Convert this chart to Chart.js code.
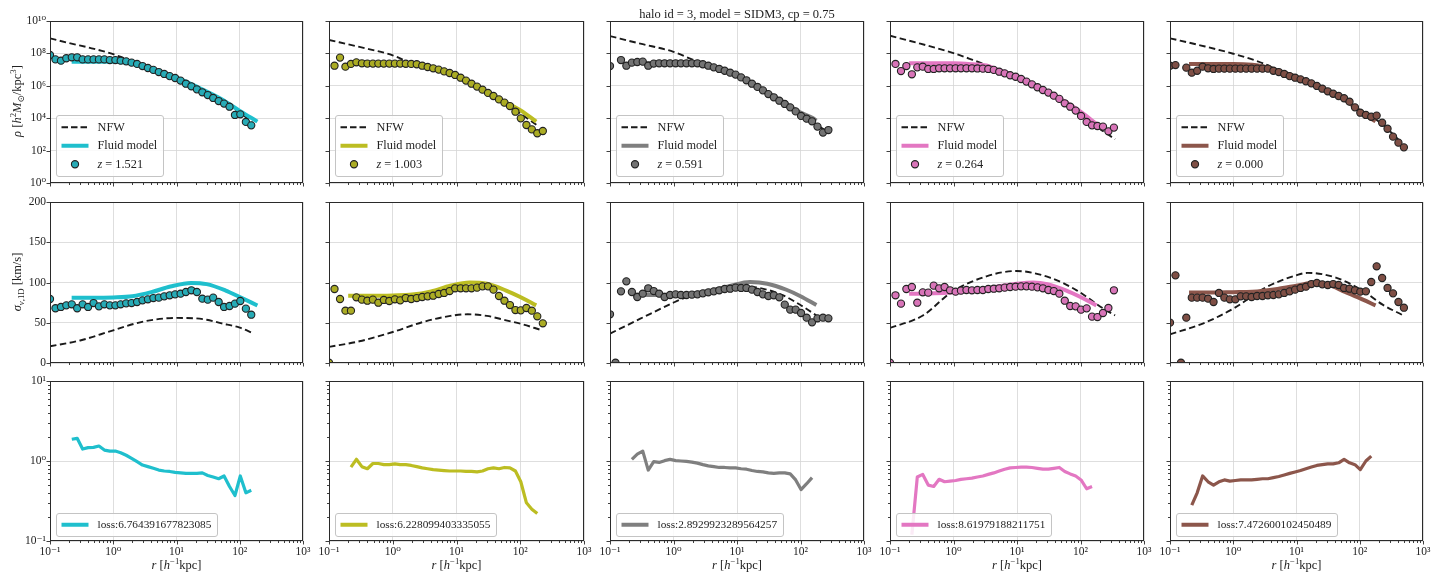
<!DOCTYPE html>
<html>
<head>
<meta charset="utf-8">
<script src="https://cdn.jsdelivr.net/npm/chart.js@4.4.0/dist/chart.umd.min.js"></script>
<style>
  body { margin: 0; background: #fff; }
  #fig { position: relative; width: 1431px; height: 575px; overflow: hidden; background: #fff;
         font-family: "Liberation Serif", "DejaVu Serif", serif; color: #222; }
  #fig canvas { position: absolute; }
  .txt { position: absolute; white-space: nowrap; line-height: 1; }
  .txt sup, .txt sub { font-size: 70%; line-height: 0; }
</style>
</head>
<body>
<div id="fig"></div>
<script>
// radial bins of the simulation profiles [h^-1 kpc]
const radii = [0.100, 0.122, 0.149, 0.181, 0.221, 0.269, 0.328, 0.400, 0.488, 0.594,
  0.724, 0.883, 1.08, 1.31, 1.60, 1.95, 2.38, 2.90, 3.53, 4.31,
  5.25, 6.40, 7.80, 9.51, 11.6, 14.1, 17.2, 21.0, 25.6, 31.2,
  38.0, 46.4, 56.5, 68.9, 84.0, 102, 125, 152, 185, 226,
  275, 336, 409, 499];

const redshifts = ['1.521', '1.003', '0.591', '0.264', '0.000'];
const lossLabels = ['loss:6.764391677823085', 'loss:6.228099403335055', 'loss:2.8929923289564257',
  'loss:8.61979188211751', 'loss:7.472600102450489'];
const colors = ['#1fbfcd', '#bcbd22', '#7f7f7f', '#e377c2', '#8c564b'];
const markerColors = ['#27abb6', '#abac24', '#737373', '#d874b8', '#7f4f45'];

// density of the simulated halo, log10(rho), one value per radial bin
const rhoSim1 = [7.90, 7.63, 7.55, 7.70, 7.76, 7.76, 7.63, 7.63, 7.63, 7.63, 7.63, 7.59, 7.59, 7.55, 7.51,
  7.43, 7.35, 7.22, 7.10, 6.98, 6.85, 6.73, 6.60, 6.48, 6.32, 6.13, 5.97, 5.78, 5.60, 5.43, 5.25, 5.06,
  4.90, 4.71, 4.20, 4.24, 3.77, 3.56];
const rhoSim2 = [null, 7.24, 7.74, 7.18, 7.35, 7.45, 7.39, 7.37, 7.37, 7.37, 7.37, 7.37, 7.37, 7.37, 7.36,
  7.35, 7.33, 7.24, 7.16, 7.08, 7.00, 6.89, 6.79, 6.67, 6.50, 6.32, 6.13, 5.95, 5.76, 5.56, 5.37, 5.16,
  4.96, 4.75, 4.40, 3.99, 3.58, 3.31, 3.07, 3.21];
const rhoSim3 = [7.22, null, 7.59, 7.24, 7.43, 7.47, 7.49, 7.24, 7.37, 7.39, 7.39, 7.39, 7.39, 7.39, 7.39,
  7.39, 7.39, 7.33, 7.24, 7.14, 7.04, 6.93, 6.81, 6.69, 6.52, 6.34, 6.13, 5.93, 5.72, 5.49, 5.29, 5.08,
  4.88, 4.67, 4.42, 4.14, 3.97, 3.81, 3.48, 3.11, 3.27];
const rhoSim4 = [null, 7.35, 6.91, 7.22, 6.71, 7.14, 7.18, 7.04, 7.04, 7.08, 7.08, 7.08, 7.08, 7.08, 7.08,
  7.08, 7.07, 7.06, 7.04, 6.98, 6.87, 6.77, 6.65, 6.56, 6.42, 6.26, 6.09, 5.91, 5.74, 5.58, 5.39, 5.19,
  4.92, 4.71, 4.47, 4.14, 3.77, 3.56, 3.52, 3.48, 3.19, 3.42];
const rhoSim5 = [7.24, 7.28, null, 7.12, 6.81, 6.93, 7.18, 7.08, 7.04, 7.06, 7.06, 7.06, 7.06, 7.06, 7.06,
  7.06, 7.06, 7.06, 7.06, 6.93, 6.85, 6.73, 6.60, 6.50, 6.40, 6.28, 6.15, 5.99, 5.82, 5.66, 5.51, 5.37,
  5.23, 5.02, 4.67, 4.34, 4.20, 4.09, 4.16, 3.72, 3.35, 2.86, 2.49, 2.20];

// model density curves, [r, log10(rho)]
const rhoNfw1 = [[0.1, 8.93], [0.2, 8.64], [0.5, 8.28], [1, 7.95], [1.5, 7.70], [2, 7.52], [3, 7.25], [5, 6.95],
  [10, 6.48], [20, 5.92], [50, 5.08], [100, 4.35], [160, 3.70]];
const rhoFluid1 = [[0.22, 7.49], [0.5, 7.49], [1, 7.49], [1.5, 7.45], [2, 7.36], [3, 7.20], [5, 6.93], [10, 6.50],
  [20, 5.98], [50, 5.20], [100, 4.45], [190, 3.79]];
const rhoNfw2 = [[0.1, 8.83], [0.3, 8.40], [1, 7.88], [2, 7.38], [5, 7.00], [10, 6.62], [20, 6.00], [50, 5.08],
  [100, 4.30], [190, 3.52]];
const rhoFluid2 = [[0.22, 7.37], [1, 7.37], [2, 7.33], [5, 7.00], [10, 6.62], [20, 6.02], [50, 5.12], [100, 4.50],
  [178, 3.79]];
const rhoNfw3 = [[0.1, 9.07], [0.3, 8.60], [1, 8.10], [2, 7.62], [3, 7.38], [5, 7.04], [10, 6.65], [20, 5.97],
  [50, 5.00], [100, 4.20], [260, 3.20]];
const rhoFluid3 = [[0.22, 7.40], [1, 7.40], [2, 7.34], [5, 7.05], [10, 6.68], [20, 6.00], [50, 5.08], [100, 4.35],
  [158, 4.00], [178, 3.85]];
const rhoNfw4 = [[0.1, 9.09], [0.3, 8.60], [1, 8.02], [2, 7.60], [4, 7.15], [10, 6.60], [20, 6.02], [50, 5.10],
  [100, 4.25], [200, 3.35], [350, 2.70]];
const rhoFluid4 = [[0.2, 7.39], [1, 7.39], [2, 7.33], [3.3, 7.25], [5, 6.98], [10, 6.58], [20, 6.00], [50, 5.15],
  [100, 4.40], [178, 3.65]];
const rhoNfw5 = [[0.1, 8.93], [0.3, 8.50], [1, 7.98], [3, 7.38], [5, 6.98], [10, 6.50], [20, 5.98], [50, 5.28],
  [100, 4.45], [200, 3.80], [350, 2.95], [490, 2.35]];
const rhoFluid5 = [[0.2, 7.35], [1, 7.35], [2, 7.30], [3, 7.20], [5, 6.95], [10, 6.55], [20, 6.05], [50, 5.30],
  [100, 4.45], [178, 3.80]];

// 1D velocity dispersion of the simulated halo [km/s]
const sigSim1 = [79.5, 68, 69.6, 71.6, 72.9, 68, 72.9, 69.6, 74.5, 70.4, 72.9, 71.6, 71.6, 72.9, 74.1, 74.5,
  75.8, 77.8, 79.1, 80.7, 81.2, 82.8, 84.1, 85.3, 86.1, 88.2, 90.3, 88.2, 79.9, 78.7, 81.2, 75.8, 69.6,
  70.8, 73.7, 77.0, 67.5, 60.0];
const sigSim2 = [0.4, 91.9, 79.5, 65, 65, 81.6, 78.7, 77.4, 78.7, 74.9, 78.3, 77.0, 79.1, 77.8, 80.7, 79.5,
  80.7, 82.0, 82.8, 83.6, 85.7, 87.0, 89.4, 92.8, 92.8, 92.8, 92.8, 93.6, 95.2, 95.2, 91.1, 83.2, 77.4,
  72.0, 65.8, 65.4, 68.3, 65.0, 58.0, 49.3];
const sigSim3 = [60.5, 0.4, 89, 101.4, 88.2, 82, 86.1, 92.8, 89.4, 86.1, 82, 84.5, 85.3, 84.5, 84.5, 84.9,
  85.3, 86.5, 87.8, 89, 90.3, 91.9, 92.3, 93.6, 93.2, 93.2, 91.1, 88.2, 85.3, 83.2, 84.1, 81.6, 72.5,
  66.3, 66.3, 62.1, 56.3, 50.5, 55.5, 56.3, 55.5];
const sigSim4 = [0.4, 84.1, 73.7, 91.9, 94.4, 74.9, 87.8, 87.4, 96.1, 92.8, 94.4, 90.3, 88.6, 89.9, 90.7, 90.3,
  90.7, 90.7, 91.9, 92.3, 92.8, 93.6, 94.4, 94.8, 95.2, 95.2, 94.8, 94.0, 92.8, 90.7, 89.4, 86.1, 77.4,
  70.8, 70.4, 66.3, 67.9, 57.6, 57.1, 62.1, 68.3, 90.3];
const sigSim5 = [50.1, 108.9, 0.4, 56.3, 81.2, 81.2, 81.2, 79.9, 75.8, 87, 81.2, 79.1, 79.1, 82.8, 82.8, 82,
  83.2, 83.2, 84.1, 84.5, 85.3, 87, 89, 91.1, 93.2, 94.8, 98.1, 99.4, 97.7, 96.9, 98.1, 96.9, 93.2, 92.3,
  90.3, 88.6, 89, 100.6, 120.1, 105.6, 93.2, 86.5, 75.8, 68.7];

// model dispersion curves, [r, sigma]
const sigNfw1 = [[0.1, 20.7], [0.3, 28], [1, 40.6], [3, 51.5], [10, 56], [20, 55.5], [30, 53.8], [50, 49.5],
  [100, 43.9], [160, 37.3]];
const sigFluid1 = [[0.22, 81], [0.5, 81], [1, 81.5], [2, 83], [4, 88], [8, 95], [17, 99.5], [30, 98], [60, 90],
  [100, 82], [190, 71.5]];
const sigNfw2 = [[0.1, 20], [0.3, 27], [1, 38.5], [3, 51], [8, 58.5], [15, 60.5], [30, 58.5], [60, 53],
  [100, 48.9], [220, 40.6]];
const sigFluid2 = [[0.2, 83.5], [0.5, 83.5], [1, 84], [2, 85], [4, 89], [8, 96], [16, 100], [30, 98.5], [60, 90],
  [100, 82], [178, 71.6]];
const sigNfw3 = [[0.1, 36.5], [0.3, 55], [1, 75], [1.5, 81], [3, 88], [10, 95.5], [20, 94], [50, 85], [100, 72],
  [178, 59]];
const sigFluid3 = [[0.23, 85], [0.5, 84.5], [1, 85], [2, 86.5], [4, 90], [8, 96], [16, 100.5], [30, 98.5],
  [60, 91], [100, 83], [178, 72]];
const sigNfw4 = [[0.1, 43.5], [0.33, 59], [0.93, 88], [3.3, 107.7], [9.9, 114.3], [33, 106], [87, 90.3],
  [230, 67.5], [350, 59.2]];
const sigFluid4 = [[0.2, 86], [0.5, 86.5], [1, 88], [2, 90.5], [5, 95], [10, 98.5], [18, 100], [30, 98], [60, 90],
  [100, 82], [178, 71.6]];
const sigNfw5 = [[0.1, 35.6], [0.33, 49], [1, 67.5], [3.3, 94], [10, 109], [15, 112], [42, 106], [110, 90],
  [230, 72.5], [490, 59]];
const sigFluid5 = [[0.2, 87.5], [0.5, 87.5], [1, 88], [2, 88.5], [5, 92], [10, 96], [20, 100], [30, 98], [60, 88],
  [100, 80.5], [178, 71.6]];

// loss per radial bin
const loss1 = [null, null, null, null, 1.87, 1.92, 1.41, 1.47, 1.48, 1.54, 1.37, 1.33, 1.33, 1.27, 1.18, 1.08,
  0.98, 0.89, 0.85, 0.81, 0.77, 0.75, 0.74, 0.72, 0.71, 0.70, 0.70, 0.70, 0.71, 0.66, 0.63, 0.60, 0.65,
  0.48, 0.37, 0.65, 0.40, 0.43];
const loss2 = [null, null, null, null, 0.84, 1.05, 0.85, 0.80, 0.93, 0.93, 0.90, 0.90, 0.92, 0.90, 0.90, 0.88,
  0.85, 0.82, 0.80, 0.78, 0.77, 0.76, 0.75, 0.75, 0.75, 0.74, 0.74, 0.73, 0.75, 0.80, 0.82, 0.80, 0.83,
  0.82, 0.75, 0.55, 0.30, 0.25, 0.22];
const loss3 = [null, null, null, null, 1.05, 1.22, 1.33, 0.77, 0.98, 0.96, 1.01, 1.05, 1.01, 1.00, 0.99, 0.97,
  0.94, 0.90, 0.87, 0.85, 0.83, 0.83, 0.82, 0.82, 0.80, 0.79, 0.76, 0.74, 0.73, 0.71, 0.70, 0.71, 0.71,
  0.69, 0.58, 0.44, 0.52, 0.62];
const loss4 = [null, null, null, null, 0.12, 0.63, 0.68, 0.50, 0.48, 0.59, 0.55, 0.56, 0.57, 0.59, 0.60, 0.61,
  0.63, 0.65, 0.68, 0.71, 0.75, 0.79, 0.82, 0.83, 0.84, 0.84, 0.83, 0.81, 0.79, 0.79, 0.81, 0.83, 0.74,
  0.69, 0.65, 0.58, 0.45, 0.48];
const loss5 = [null, null, null, null, 0.28, 0.40, 0.65, 0.55, 0.50, 0.55, 0.58, 0.56, 0.57, 0.58, 0.58, 0.58,
  0.59, 0.60, 0.60, 0.62, 0.64, 0.67, 0.70, 0.73, 0.76, 0.80, 0.84, 0.88, 0.90, 0.92, 0.92, 0.95, 1.05,
  0.95, 0.90, 0.78, 1.00, 1.15];

// axis ticks
const xMajor = [0.1, 1, 10, 100, 1000];
const xLabels = ['10⁻¹', '10⁰', '10¹', '10²', '10³'];
const rhoMajor = [1, 1e2, 1e4, 1e6, 1e8, 1e10];
const rhoLabels = ['10⁰', '10²', '10⁴', '10⁶', '10⁸', '10¹⁰'];
const sigMajor = [0, 50, 100, 150, 200];
const sigLabels = ['0', '50', '100', '150', '200'];
const lossMajor = [0.1, 1, 10];
const lossLabelsY = ['10⁻¹', '10⁰', '10¹'];

// minor ticks of the log axes (2..9 times each decade)
function minorTicks(decades) {
  const out = [];
  decades.forEach(d => { for (let m = 2; m <= 9; m++) out.push(+(m * d).toPrecision(3)); });
  return out;
}
const xMinor = minorTicks([0.1, 1, 10, 100]);
const lossMinor = minorTicks([0.1, 1]);

// page geometry of the 5 x 3 grid of panels
const fig = document.getElementById('fig');
const colLeft = [50, 329, 610, 890, 1170];
const colRight = [303, 584, 864, 1144, 1423];
const rowTop = [21, 202, 381];
const rowBottom = [183, 363, 541];
const PAD_L = 50, PAD_R = 24, PAD_T = 20, PAD_B = 30;
const serif = '"Liberation Serif", "DejaVu Serif", serif';
const gridColor = '#d6d6d6';

// frame and tick marks drawn like matplotlib spines
const decor = {
  id: 'decor',
  afterDraw(chart, args, o) {
    const { ctx, chartArea: a } = chart;
    const sx = chart.scales.x, sy = chart.scales.y;
    ctx.save();
    ctx.strokeStyle = '#2a2a2a';
    ctx.lineWidth = 0.9;
    ctx.beginPath();
    const xt = (list, len) => list.forEach(v => {
      const p = Math.round(sx.getPixelForValue(v)) + 0.5;
      ctx.moveTo(p, a.bottom); ctx.lineTo(p, a.bottom + len);
    });
    const yt = (list, len) => list.forEach(v => {
      const p = Math.round(sy.getPixelForValue(v)) + 0.5;
      ctx.moveTo(a.left, p); ctx.lineTo(a.left - len, p);
    });
    xt(o.xMajor, 3.5); xt(o.xMinor, 2);
    yt(o.yMajor, 3.5); yt(o.yMinor, 2);
    ctx.stroke();
    ctx.lineWidth = 1;
    ctx.strokeRect(a.left + 0.5, a.top + 0.5, a.right - a.left - 1, a.bottom - a.top - 1);
    ctx.restore();
  }
};

// legend box in the lower left corner of the panel
const boxLegend = {
  id: 'boxLegend',
  afterDatasetsDraw(chart, args, o) {
    if (!o.items) return;
    const { ctx, chartArea: a } = chart;
    ctx.save();
    const font = it => (it ? 'italic ' : '') + o.size + 'px ' + serif;
    const widthOf = parts => parts.reduce((s, p) => { ctx.font = font(p.it); return s + ctx.measureText(p.t).width; }, 0);
    const textW = Math.max(...o.items.map(i => widthOf(i.parts)));
    const bw = Math.round(41 + textW + 6), bh = Math.round(o.items.length * o.rowH + 5);
    const x0 = a.left + 6.5, y0 = Math.round(a.bottom - o.bottom - bh) + 0.5;
    ctx.beginPath();
    if (ctx.roundRect) ctx.roundRect(x0, y0, bw, bh, 2.5); else ctx.rect(x0, y0, bw, bh);
    ctx.fillStyle = 'rgba(255,255,255,0.85)';
    ctx.fill();
    ctx.strokeStyle = '#c4c4c4';
    ctx.lineWidth = 1;
    ctx.stroke();
    o.items.forEach((item, i) => {
      const cy = y0 + 2.5 + o.rowH * (i + 0.5);
      ctx.setLineDash([]);
      if (item.kind === 'dash' || item.kind === 'line') {
        ctx.beginPath();
        ctx.moveTo(x0 + 5, cy); ctx.lineTo(x0 + 32, cy);
        ctx.strokeStyle = item.color;
        ctx.lineWidth = item.kind === 'dash' ? 1.9 : 4;
        if (item.kind === 'dash') ctx.setLineDash([6.5, 3]);
        ctx.stroke();
        ctx.setLineDash([]);
      } else {
        ctx.beginPath();
        ctx.arc(x0 + 18.5, cy, 3.6, 0, Math.PI * 2);
        ctx.fillStyle = item.color; ctx.fill();
        ctx.strokeStyle = '#222'; ctx.lineWidth = 1.1; ctx.stroke();
      }
      let tx = x0 + 41;
      ctx.fillStyle = '#222';
      ctx.textBaseline = 'middle';
      item.parts.forEach(p => {
        ctx.font = font(p.it);
        ctx.fillText(p.t, tx, cy + 0.5);
        tx += ctx.measureText(p.t).width;
      });
    });
    ctx.restore();
  }
};

function axisCfg(axis, type, range, majors, minors, labels, showLabels) {
  const values = majors.concat(minors).sort((p, q) => p - q);
  return {
    type, min: range[0], max: range[1],
    afterBuildTicks: s => { s.ticks = values.map(v => ({ value: v })); },
    afterFit: s => { if (axis === 'x') s.height = PAD_B; else s.width = PAD_L; },
    border: { display: false },
    grid: {
      drawTicks: false, lineWidth: 0.8,
      color: c => (c.tick && majors.includes(c.tick.value)) ? gridColor : 'rgba(0,0,0,0)'
    },
    ticks: {
      display: showLabels, autoSkip: false, maxRotation: 0, minRotation: 0,
      padding: 4, color: '#222',
      font: { family: serif, size: 11.5 },
      callback: v => { const i = majors.indexOf(v); return i >= 0 ? labels[i] : ''; }
    }
  };
}

const simPoints = (values, log) => values
  .map((v, k) => v === null ? null : { x: radii[k], y: log ? Math.pow(10, v) : v })
  .filter(Boolean);
const curvePoints = (pairs, log) => pairs.map(([r, v]) => ({ x: r, y: log ? Math.pow(10, v) : v }));

function markerSet(data, color) {
  return { data, showLine: false, pointRadius: 3.6, pointHoverRadius: 3.6, backgroundColor: color,
    pointBackgroundColor: color, pointBorderColor: '#222', pointBorderWidth: 1.1, order: 0, clip: 0 };
}
function lineSet(data, color, width, dash, order, smooth) {
  return { data, showLine: true, borderColor: color, borderWidth: width, borderDash: dash || [],
    pointRadius: 0, pointHoverRadius: 0, cubicInterpolationMode: smooth ? 'monotone' : 'default',
    tension: 0, borderJoinStyle: 'round', order, clip: 0 };
}

function panel(row, col, datasets, yAxis, legend) {
  const w = colRight[col] - colLeft[col];
  const h = rowBottom[row] - rowTop[row];
  const cv = document.createElement('canvas');
  cv.width = w + PAD_L + PAD_R;
  cv.height = h + PAD_T + PAD_B;
  cv.style.left = (colLeft[col] - PAD_L) + 'px';
  cv.style.top = (rowTop[row] - PAD_T) + 'px';
  fig.appendChild(cv);
  new Chart(cv, {
    type: 'scatter',
    data: { datasets },
    options: {
      responsive: false, animation: false, devicePixelRatio: 1,
      events: [],
      layout: { padding: { left: 0, right: PAD_R, top: PAD_T, bottom: 0 } },
      scales: {
        x: axisCfg('x', 'logarithmic', [0.1, 1000], xMajor, xMinor, xLabels, row === 2),
        y: axisCfg('y', yAxis.type, yAxis.range, yAxis.major, yAxis.minor, yAxis.labels, col === 0)
      },
      plugins: {
        legend: { display: false },
        tooltip: { enabled: false },
        boxLegend: legend,
        decor: { xMajor, xMinor, yMajor: yAxis.major, yMinor: yAxis.minor }
      }
    },
    plugins: [boxLegend, decor]
  });
}

const rhoSims = [rhoSim1, rhoSim2, rhoSim3, rhoSim4, rhoSim5];
const rhoNfws = [rhoNfw1, rhoNfw2, rhoNfw3, rhoNfw4, rhoNfw5];
const rhoFluids = [rhoFluid1, rhoFluid2, rhoFluid3, rhoFluid4, rhoFluid5];
const sigSims = [sigSim1, sigSim2, sigSim3, sigSim4, sigSim5];
const sigNfws = [sigNfw1, sigNfw2, sigNfw3, sigNfw4, sigNfw5];
const sigFluids = [sigFluid1, sigFluid2, sigFluid3, sigFluid4, sigFluid5];
const losses = [loss1, loss2, loss3, loss4, loss5];

const rhoAxis = { type: 'logarithmic', range: [1, 1e10], major: rhoMajor, minor: [], labels: rhoLabels };
const sigAxis = { type: 'linear', range: [0, 200], major: sigMajor, minor: [], labels: sigLabels };
const lossAxis = { type: 'logarithmic', range: [0.1, 10], major: lossMajor, minor: lossMinor, labels: lossLabelsY };

for (let c = 0; c < 5; c++) {
  const col = colors[c], mcol = markerColors[c];
  panel(0, c, [
    markerSet(simPoints(rhoSims[c], true), mcol),
    lineSet(curvePoints(rhoFluids[c], true), col, 4, null, 1, true),
    lineSet(curvePoints(rhoNfws[c], true), '#1a1a1a', 1.9, [6.5, 3.5], 2, true)
  ], rhoAxis, {
    size: 12.3, rowH: 18.5, bottom: 7,
    items: [
      { kind: 'dash', color: '#1a1a1a', parts: [{ t: 'NFW' }] },
      { kind: 'line', color: col, parts: [{ t: 'Fluid model' }] },
      { kind: 'dot', color: mcol, parts: [{ t: 'z', it: true }, { t: ' = ' + redshifts[c] }] }
    ]
  });
  panel(1, c, [
    markerSet(simPoints(sigSims[c], false), mcol),
    lineSet(curvePoints(sigFluids[c], false), col, 4, null, 1, true),
    lineSet(curvePoints(sigNfws[c], false), '#1a1a1a', 1.9, [6.5, 3.5], 2, true)
  ], sigAxis, {});
  panel(2, c, [
    lineSet(simPoints(losses[c], false), col, 3.2, null, 0, false)
  ], lossAxis, {
    size: 11.3, rowH: 17.5, bottom: 5,
    items: [{ kind: 'line', color: col, parts: [{ t: lossLabels[c] }] }]
  });
}

// figure texts
function addText(html, cx, cy, size, rotate) {
  const d = document.createElement('div');
  d.className = 'txt';
  d.innerHTML = html;
  d.style.left = cx + 'px';
  d.style.top = cy + 'px';
  d.style.fontSize = size + 'px';
  d.style.transform = 'translate(-50%, -50%)' + (rotate ? ' rotate(-90deg)' : '');
  fig.appendChild(d);
}
addText('halo id = 3, model = SIDM3, cp = 0.75', 737, 14, 12.5, false);
addText('<i>ρ</i> [<i>h</i><sup>2</sup><i>M</i><sub>⊙</sub>/kpc<sup>3</sup>]', 17, 101, 12.5, true);
addText('<i>σ</i><sub><i>v</i>,1D</sub> [km/s]', 17, 282, 12.5, true);
for (let c = 0; c < 5; c++) {
  addText('<i>r</i> [<i>h</i><sup>−1</sup>kpc]', (colLeft[c] + colRight[c]) / 2, 565, 12.5, false);
}
</script>
</body>
</html>
